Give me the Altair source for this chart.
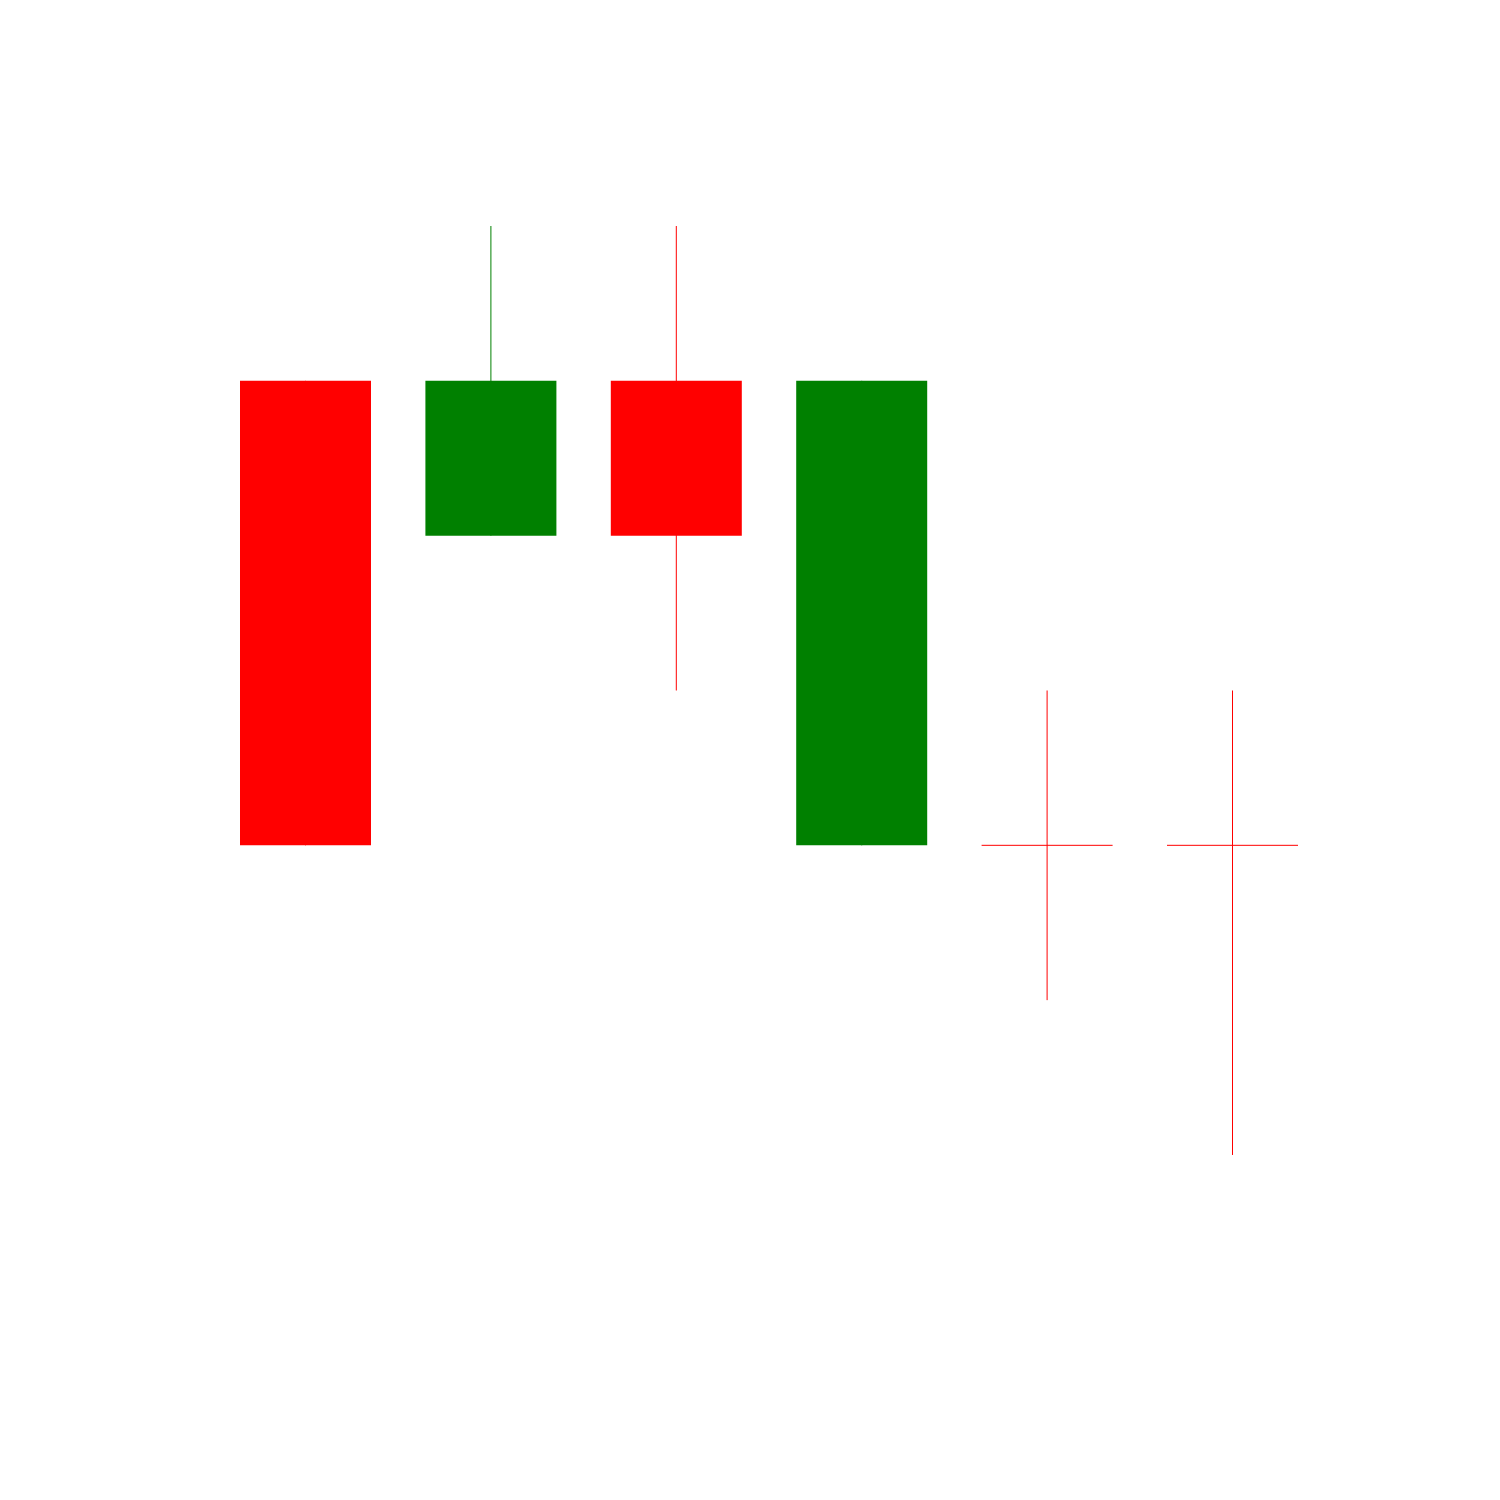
import altair as alt
import pandas as pd

positions = [1, 2, 3, 4, 5, 6]
opens = [5, 4, 5, 2, 2, 2]
closes = [2, 5, 4, 5, 2, 2]
highs = [5, 6, 6, 5, 3, 3]
lows = [2, 4, 3, 2, 1, 0]

df = pd.DataFrame({"pos": positions, "open": opens, "close": closes,
                   "high": highs, "low": lows})
df["dir"] = ["up" if c > o else "down" for o, c in zip(opens, closes)]

xs = alt.Scale(domain=[-0.6478, 7.4428], nice=False, zero=False, padding=0)
ys = alt.Scale(domain=[-2.2284, 7.4597], nice=False, zero=False, padding=0)
col = alt.Color("dir:N", scale=alt.Scale(domain=["up", "down"], range=["#008000", "#ff0000"]), legend=None)

base = alt.Chart(df)

wick = base.mark_rule(strokeWidth=1).encode(
    x=alt.X("pos:Q", scale=xs, axis=None),
    y=alt.Y("low:Q", scale=ys, axis=None),
    y2="high:Q",
    color=col,
)

body = base.mark_bar(size=131).encode(
    x=alt.X("pos:Q", scale=xs, axis=None),
    y=alt.Y("open:Q", scale=ys, axis=None),
    y2="close:Q",
    color=col,
)

doji = base.transform_filter("datum.open == datum.close").transform_calculate(
    x1="datum.pos - 0.3533", x2="datum.pos + 0.3533"
).mark_rule(strokeWidth=1).encode(
    x=alt.X("x1:Q", scale=xs, axis=None),
    x2="x2:Q",
    y=alt.Y("open:Q", scale=ys, axis=None),
    color=col,
)

chart = alt.layer(wick, body, doji).properties(
    width=1500, height=1500,
    autosize=alt.AutoSizeParams(type="none"),
    padding=0,
).configure_view(stroke=None)

chart.save("out.html", embed_options={"renderer": "svg", "actions": False})
